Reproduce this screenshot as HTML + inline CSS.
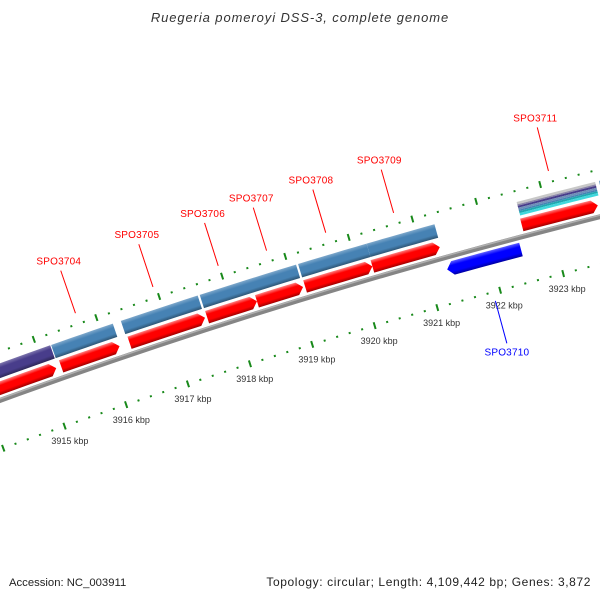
<!DOCTYPE html>
<html><head><meta charset="utf-8"><style>
html,body{margin:0;padding:0;background:#fff;}
svg{display:block;font-family:"Liberation Sans",sans-serif;}
</style></head><body>
<svg id="map" width="600" height="600" viewBox="0 0 600 600" xmlns="http://www.w3.org/2000/svg">
<defs id="defs"></defs>
<rect width="600" height="600" fill="#fff"/>
<text x="300" y="22" text-anchor="middle" font-size="13" font-style="italic" letter-spacing="0.9" fill="#333">Ruegeria pomeroyi DSS-3, complete genome</text>
<g id="scaleG"></g>
<g id="backG"></g>
<g id="geneG"></g>
<g id="labelG"></g>
<text x="9" y="586" font-size="11.3" fill="#222">Accession: NC_003911</text>
<text x="591" y="586" font-size="12" letter-spacing="0.6" text-anchor="end" fill="#222">Topology: circular; Length: 4,109,442 bp; Genes: 3,872</text>
</svg>
<script>
// forward genes (red track), kbp
const fwdNames = ["", "SPO3704", "SPO3705", "SPO3706", "SPO3707", "SPO3708", "SPO3709", "SPO3711"];
const fwdStart = [3913.0, 3915.254, 3916.353, 3917.594, 3918.389, 3919.154, 3920.221, 3922.576];
const fwdEnd   = [3915.175, 3916.193, 3917.561, 3918.389, 3919.122, 3920.221, 3921.286, 3923.769];
// COG-colour track
const cogStart = [3913.0, 3915.218, 3916.334, 3917.591, 3919.151, 3920.233, 3923.875];
const cogEnd   = [3915.203, 3916.206, 3917.559, 3919.119, 3920.233, 3921.301, 3925.0];
const cogColor = ["#483d8b", "#4682b4", "#4682b4", "#4682b4", "#4682b4", "#4682b4", "#4682b4"];
const stripeStart = [3922.589];
const stripeEnd = [3923.815];
// reverse genes
const revNames = ["SPO3710"];
const revStart = [3921.303];
const revEnd = [3922.469];
// scale
const tickMajor = [3915,3916,3917,3918,3919,3920,3921,3922,3923];
const tickLabels = ["3915 kbp","3916 kbp","3917 kbp","3918 kbp","3919 kbp","3920 kbp","3921 kbp","3922 kbp","3923 kbp"];

const NS="http://www.w3.org/2000/svg";
const R=6000, PXK=65.7, K0=3919.02;
const ang=-17*Math.PI/180;
const t0=[Math.cos(ang),Math.sin(ang)], n0=[-Math.sin(ang),Math.cos(ang)];
const C=[300+R*n0[0],300+R*n0[1]];
function sOf(k){return (k-K0)*PXK;}
function P(k,n){const phi=sOf(k)/R;const u=[-n0[0]*Math.cos(phi)+t0[0]*Math.sin(phi),-n0[1]*Math.cos(phi)+t0[1]*Math.sin(phi)];
 return [C[0]+(R-n)*u[0],C[1]+(R-n)*u[1]];}
function mk(tag,attrs,parent){const e=document.createElementNS(NS,tag);for(const a in attrs)e.setAttribute(a,attrs[a]);parent.appendChild(e);return e;}
function pts(a){return a.map(p=>p[0].toFixed(2)+","+p[1].toFixed(2)).join(" ");}
const defs=document.getElementById('defs');
let gid=0;
function grad(k,nt,nb,light,base,dark){
 const id="g"+(gid++);const a=P(k,nt),b=P(k,nb);
 const g=mk('linearGradient',{id:id,gradientUnits:'userSpaceOnUse',x1:a[0],y1:a[1],x2:b[0],y2:b[1]},defs);
 mk('stop',{offset:'0',"stop-color":light},g);mk('stop',{offset:'0.3',"stop-color":base},g);
 mk('stop',{offset:'0.72',"stop-color":base},g);mk('stop',{offset:'1',"stop-color":dark},g);
 return "url(#"+id+")";}
function shade(c,f){const n=parseInt(c.slice(1),16);let r=n>>16,g=(n>>8)&255,b=n&255;
 if(f>0){r+= (255-r)*f;g+=(255-g)*f;b+=(255-b)*f;}else{r*=1+f;g*=1+f;b*=1+f;}
 return "rgb("+Math.round(r)+","+Math.round(g)+","+Math.round(b)+")";}
function band(k0,k1,nt,nb){const a=[],b=[];const N=6;for(let i=0;i<=N;i++){const k=k0+(k1-k0)*i/N;a.push(P(k,nt));b.unshift(P(k,nb));}return a.concat(b);}
function arrow(k0,k1,nt,nb,dir){const hk=6/PXK;const nm=(nt+nb)/2;const a=[],b=[];const N=5;
 if(dir>0){for(let i=0;i<=N;i++){const k=k0+(k1-hk-k0)*i/N;a.push(P(k,nt));b.unshift(P(k,nb));}return a.concat([P(k1,nm)]).concat(b);}
 else{for(let i=0;i<=N;i++){const k=k0+hk+(k1-k0-hk)*i/N;a.push(P(k,nt));b.unshift(P(k,nb));}return [P(k0,nm)].concat(a).concat(b);}}

// scale rulers
const sg=document.getElementById('scaleG');
const green="#18891a";
for(let k=3912;k<=3926.01;k+=0.2){
 const kk=Math.round(k*5)/5;const major=Math.abs(kk-Math.round(kk))<1e-6;
 [-46,46].forEach(nc=>{
  const h=major?3.5:1;const a=P(kk,nc-h),b=P(kk,nc+h);
  const l=mk('line',{x1:a[0],y1:a[1],x2:b[0],y2:b[1],stroke:green,"stroke-width":2},sg);
  
  
 });
}
tickMajor.forEach((k,i)=>{const p=P(k,62);
 const t=mk('text',{x:p[0],y:p[1]+3,"text-anchor":"middle","font-size":"9",fill:"#333"},sg);
 t.textContent=tickLabels[i];
 
 });

// backbone
const bg=document.getElementById('backG');
const bb=[];for(let k=3913;k<=3926;k+=0.25)bb.push(P(k,0));
const bl1=mk('polyline',{points:pts(bb),fill:"none",stroke:"#858585","stroke-width":5},bg);


const bb2=[];for(let k=3913;k<=3926;k+=0.25)bb2.push(P(k,-1.5));
const bl2=mk('polyline',{points:pts(bb2),fill:"none",stroke:"#b0b0b0","stroke-width":1.5},bg);



// genes
const gg=document.getElementById('geneG');
fwdStart.forEach((s,i)=>{const e=fwdEnd[i];
 const f=grad((s+e)/2,-18,-5,"#ff8080","#ff0000","#a00000");
 const p=mk('polygon',{points:pts(arrow(s,e,-18,-5,1)),fill:f},gg);
 
 });
cogStart.forEach((s,i)=>{const e=cogEnd[i];const c=cogColor[i];
 const f=grad((s+e)/2,-35,-21,shade(c,0.3),c,shade(c,-0.35));
 const p=mk('polygon',{points:pts(band(s,e,-35,-21)),fill:f},gg);
 
 });
const stripeCols=[["#c8c8c8",-35,-32.5],["#8c86a8",-32.5,-31],["#483d8b",-31,-29],["#6f8fb8",-29,-27],["#4682b4",-27,-25.5],["#20a8b0",-25.5,-23.5],["#40d8dc",-23.5,-21]];
stripeStart.forEach((s,i)=>{const e=stripeEnd[i];
 stripeCols.forEach(sc=>{const p=mk('polygon',{points:pts(band(s,e,sc[1],sc[2])),fill:sc[0]},gg);
  
  });});
revStart.forEach((s,i)=>{const e=revEnd[i];
 const f=grad((s+e)/2,5,19,"#6060ff","#0000ff","#0000a0");
 const p=mk('polygon',{points:pts(arrow(s,e,5,19,-1)),fill:f},gg);
 
 });

// labels
const lg=document.getElementById('labelG');
fwdNames.forEach((nm,i)=>{if(!nm)return;const k=(fwdStart[i]+fwdEnd[i])/2;
 const a=P(k,-57),b=P(k,-102);
 const l=mk('line',{x1:a[0],y1:a[1],x2:b[0],y2:b[1],stroke:"#ff0000","stroke-width":1},lg);
 
 
 const t=mk('text',{x:b[0]-2,y:b[1]-6,"text-anchor":"middle","font-size":"10",fill:"#ff0000","letter-spacing":"0.2"},lg);
 t.textContent=nm;
 
 });
revNames.forEach((nm,i)=>{const k=(revStart[i]+revEnd[i])/2;
 const a=P(k,55),b=P(k,99);
 const l=mk('line',{x1:a[0],y1:a[1],x2:b[0],y2:b[1],stroke:"#0000ff","stroke-width":1},lg);
 
 
 const t=mk('text',{x:b[0],y:b[1]+12,"text-anchor":"middle","font-size":"10",fill:"#0000ff","letter-spacing":"0.2"},lg);
 t.textContent=nm;
 
 });
</script>
</body></html>
